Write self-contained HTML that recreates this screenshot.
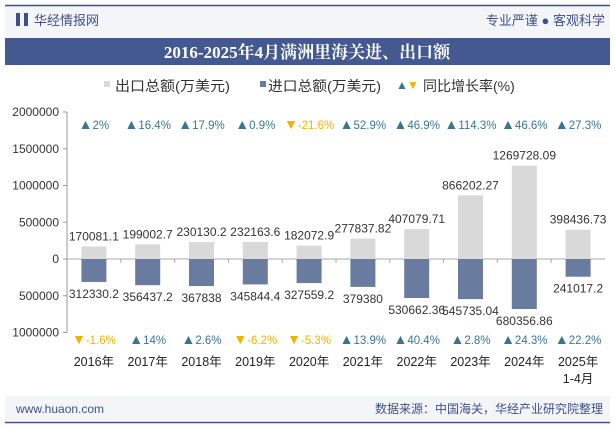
<!DOCTYPE html>
<html><head><meta charset="utf-8"><style>
body{margin:0;width:615px;height:427px;background:#fff;font-family:"Liberation Sans","Noto Sans CJK SC",sans-serif;overflow:hidden}
</style></head><body>
<svg width="615" height="427" style="position:absolute;left:0;top:0">
<rect x="5" y="5" width="605" height="33" fill="#f4f5f9"/>
<line x1="5" y1="5.5" x2="610" y2="5.5" stroke="#3e5088" stroke-width="1.5"/>
<rect x="16" y="13" width="4" height="13" fill="#3e5088"/><rect x="24" y="13" width="4" height="13" fill="#3e5088"/>
<text x="34" y="25" font-size="13" fill="#3e5088">华经情报网</text>
<text x="605" y="25" font-size="13" fill="#3e5088" text-anchor="end">专业严谨 ● 客观科学</text>
<rect x="5" y="38" width="605" height="27" fill="#44598f"/>
<text x="307" y="58" font-size="17" font-weight="bold" fill="#fff" text-anchor="middle" font-family="Liberation Serif,'Noto Serif CJK SC',serif">2016-2025年4月满洲里海关进、出口额</text>
<g font-size="14" fill="#333">
<rect x="104" y="96" width="6" height="6" fill="#d9d9d9" transform="translate(0,-15)"/><text x="115" y="91" textLength="115" lengthAdjust="spacingAndGlyphs">出口总额(万美元)</text>
<rect x="260" y="81" width="6" height="6" fill="#6a7ba0"/><text x="268" y="91" textLength="113" lengthAdjust="spacingAndGlyphs">进口总额(万美元)</text>
<text x="396" y="89" font-size="12" fill="#3a7590">▲</text><text x="407" y="89" font-size="12" fill="#f0b400">▼</text>
<text x="423" y="91">同比增长率(%)</text>
</g>
<g id="plot"></g>
<rect x="5" y="396" width="605" height="24" fill="#f4f5f9"/>
<line x1="5" y1="422.5" x2="610" y2="422.5" stroke="#3e5088" stroke-width="1.5"/>
<text x="16" y="413" font-size="12" fill="#3e5088">www.huaon.com</text>
<text x="603" y="413" font-size="12" fill="#3e5088" text-anchor="end">数据来源：中国海关，华经产业研究院整理</text>
</svg>
<script>
const categories=["2016年","2017年","2018年","2019年","2020年","2021年","2022年","2023年","2024年","2025年\n1-4月"];
const exportVals=[170081.1,199002.7,230130.2,232163.6,182072.9,277837.82,407079.71,866202.27,1269728.09,398436.73];
const importVals=[312330.2,356437.2,367838,345844.4,327559.2,379380,530662.36,545735.04,680356.86,241017.2];
const exportGrowth=[2,16.4,17.9,0.9,-21.6,52.9,46.9,114.3,46.6,27.3];
const importGrowth=[-1.6,14,2.6,-6.2,-5.3,13.9,40.4,2.8,24.3,22.2];
const yTicks=[2000000,1500000,1000000,500000,0,-500000,-1000000];
const NS="http://www.w3.org/2000/svg",g=document.getElementById('plot');
const x0=67,x1=605,zeroY=259,pxPer=73.5/1000000;
const band=(x1-x0)/categories.length;
const xC=i=>x0+band*(i+0.5), yS=v=>zeroY-v*pxPer;
function mk(t,a,txt,p){const e=document.createElementNS(NS,t);for(const k in a)e.setAttribute(k,a[k]);if(txt!=null)e.textContent=txt;(p||g).appendChild(e);return e;}
let ax=mk('line',{x1:x0,y1:yS(2000000),x2:x0,y2:yS(-1000000),stroke:'#999'});


let zl=mk('line',{x1:x0,y1:zeroY,x2:x1,y2:zeroY,stroke:'#aaa'});


yTicks.forEach(v=>{mk('line',{x1:x0-4,y1:yS(v),x2:x0,y2:yS(v),stroke:'#999'});
const t=mk('text',{x:x0-8,y:yS(v)+4,'font-size':12,fill:'#333','text-anchor':'end'},String(Math.abs(v)));

});
for(let i=1;i<categories.length;i++)mk('line',{x1:x0+band*i,y1:zeroY,x2:x0+band*i,y2:zeroY+4,stroke:'#aaa'});
const bw=25;
categories.forEach((c,i)=>{const cx=xC(i);
const eb=mk('rect',{x:cx-bw/2,y:yS(exportVals[i]),width:bw,height:zeroY-yS(exportVals[i]),fill:'#d9d9d9'});


const ib=mk('rect',{x:cx-bw/2,y:zeroY,width:bw,height:yS(-importVals[i])-zeroY,fill:'#6a7ba0'});


const el=mk('text',{x:cx,y:yS(exportVals[i])-6,'font-size':12,fill:'#333','text-anchor':'middle'},String(exportVals[i]));


const il=mk('text',{x:cx,y:yS(-importVals[i])+16,'font-size':12,fill:'#333','text-anchor':'middle'},String(importVals[i]));


[[exportGrowth[i],129,'export-growth'],[importGrowth[i],344,'import-growth']].forEach(([v,y,n])=>{
const up=v>=0;const t=mk('text',{x:cx,y:y,'font-size':11.5,fill:up?'#3a7590':'#f0b400','text-anchor':'middle'});
mk('tspan',{'font-size':14},up?'▲':'▼',t);
mk('tspan',{},v+'%',t);

});
c.split('\n').forEach((ln,j)=>{const t=mk('text',{x:cx,y:366+j*17,'font-size':12.5,fill:'#222','text-anchor':'middle'},ln);

});
});
</script>
</body></html>
